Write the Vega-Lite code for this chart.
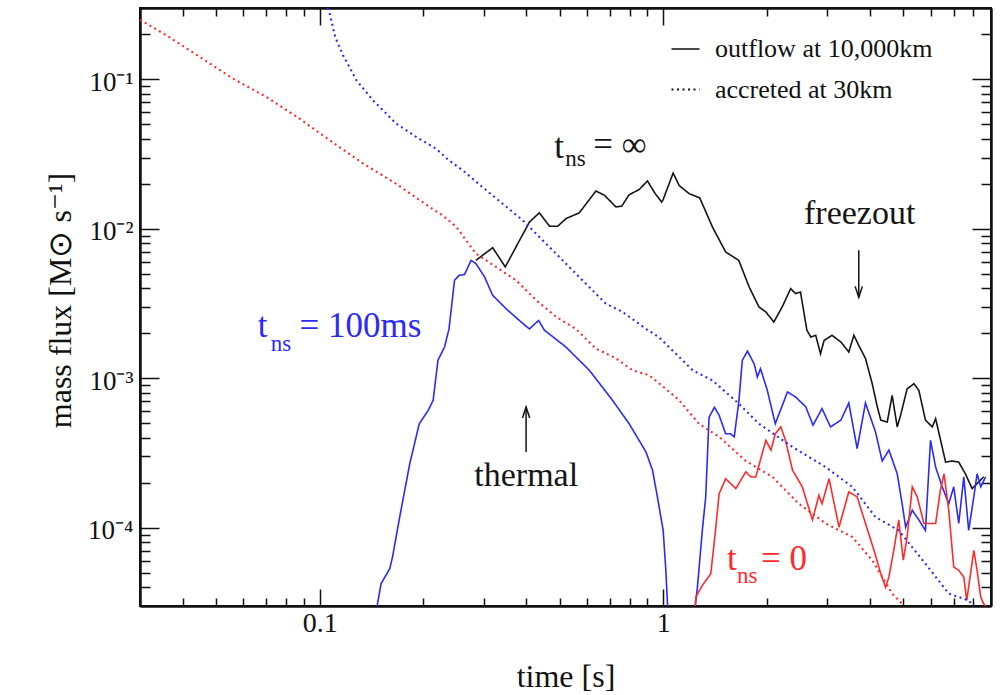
{
  "$schema": "https://vega.github.io/schema/vega-lite/v6.json",
  "width": 851,
  "height": 598,
  "autosize": {"type": "none"},
  "padding": {"left": 140, "top": 8, "right": 10, "bottom": 89},
  "background": "white",
  "config": {
    "view": {"stroke": "#111", "strokeWidth": 2},
    "axis": {"grid": false, "labelFont": "Liberation Serif", "labelColor": "#111", "titleFont": "Liberation Serif", "titleFontWeight": "normal", "titleColor": "#111"}
  },
  "datasets": {
    "curves": [
      {"g":"inf","s":"inf","k":"outflow at 10,000km","t":0.285,"v":0.00615},
      {"g":"inf","s":"inf","k":"outflow at 10,000km","t":0.319,"v":0.00748},
      {"g":"inf","s":"inf","k":"outflow at 10,000km","t":0.347,"v":0.00556},
      {"g":"inf","s":"inf","k":"outflow at 10,000km","t":0.408,"v":0.0111},
      {"g":"inf","s":"inf","k":"outflow at 10,000km","t":0.436,"v":0.0128},
      {"g":"inf","s":"inf","k":"outflow at 10,000km","t":0.467,"v":0.0104},
      {"g":"inf","s":"inf","k":"outflow at 10,000km","t":0.493,"v":0.0104},
      {"g":"inf","s":"inf","k":"outflow at 10,000km","t":0.521,"v":0.0117},
      {"g":"inf","s":"inf","k":"outflow at 10,000km","t":0.570,"v":0.0128},
      {"g":"inf","s":"inf","k":"outflow at 10,000km","t":0.637,"v":0.0179},
      {"g":"inf","s":"inf","k":"outflow at 10,000km","t":0.674,"v":0.0168},
      {"g":"inf","s":"inf","k":"outflow at 10,000km","t":0.729,"v":0.0140},
      {"g":"inf","s":"inf","k":"outflow at 10,000km","t":0.758,"v":0.0142},
      {"g":"inf","s":"inf","k":"outflow at 10,000km","t":0.796,"v":0.0169},
      {"g":"inf","s":"inf","k":"outflow at 10,000km","t":0.851,"v":0.0183},
      {"g":"inf","s":"inf","k":"outflow at 10,000km","t":0.900,"v":0.0209},
      {"g":"inf","s":"inf","k":"outflow at 10,000km","t":0.948,"v":0.0172},
      {"g":"inf","s":"inf","k":"outflow at 10,000km","t":0.990,"v":0.0151},
      {"g":"inf","s":"inf","k":"outflow at 10,000km","t":1.000,"v":0.0157},
      {"g":"inf","s":"inf","k":"outflow at 10,000km","t":1.069,"v":0.0236},
      {"g":"inf","s":"inf","k":"outflow at 10,000km","t":1.113,"v":0.0195},
      {"g":"inf","s":"inf","k":"outflow at 10,000km","t":1.190,"v":0.0172},
      {"g":"inf","s":"inf","k":"outflow at 10,000km","t":1.278,"v":0.0161},
      {"g":"inf","s":"inf","k":"outflow at 10,000km","t":1.391,"v":0.0103},
      {"g":"inf","s":"inf","k":"outflow at 10,000km","t":1.52,"v":0.0070},
      {"g":"inf","s":"inf","k":"outflow at 10,000km","t":1.66,"v":0.00615},
      {"g":"inf","s":"inf","k":"outflow at 10,000km","t":1.78,"v":0.00408},
      {"g":"inf","s":"inf","k":"outflow at 10,000km","t":1.90,"v":0.0030},
      {"g":"inf","s":"inf","k":"outflow at 10,000km","t":1.99,"v":0.00278},
      {"g":"inf","s":"inf","k":"outflow at 10,000km","t":2.10,"v":0.00238},
      {"g":"inf","s":"inf","k":"outflow at 10,000km","t":2.22,"v":0.0030},
      {"g":"inf","s":"inf","k":"outflow at 10,000km","t":2.35,"v":0.00398},
      {"g":"inf","s":"inf","k":"outflow at 10,000km","t":2.43,"v":0.00369},
      {"g":"inf","s":"inf","k":"outflow at 10,000km","t":2.51,"v":0.00378},
      {"g":"inf","s":"inf","k":"outflow at 10,000km","t":2.62,"v":0.0021},
      {"g":"inf","s":"inf","k":"outflow at 10,000km","t":2.69,"v":0.00189},
      {"g":"inf","s":"inf","k":"outflow at 10,000km","t":2.78,"v":0.00194},
      {"g":"inf","s":"inf","k":"outflow at 10,000km","t":2.87,"v":0.00146},
      {"g":"inf","s":"inf","k":"outflow at 10,000km","t":2.94,"v":0.00179},
      {"g":"inf","s":"inf","k":"outflow at 10,000km","t":3.10,"v":0.00194},
      {"g":"inf","s":"inf","k":"outflow at 10,000km","t":3.29,"v":0.00175},
      {"g":"inf","s":"inf","k":"outflow at 10,000km","t":3.47,"v":0.00150},
      {"g":"inf","s":"inf","k":"outflow at 10,000km","t":3.59,"v":0.00194},
      {"g":"inf","s":"inf","k":"outflow at 10,000km","t":3.71,"v":0.00166},
      {"g":"inf","s":"inf","k":"outflow at 10,000km","t":3.88,"v":0.00136},
      {"g":"inf","s":"inf","k":"outflow at 10,000km","t":4.06,"v":0.00092},
      {"g":"inf","s":"inf","k":"outflow at 10,000km","t":4.20,"v":0.000645},
      {"g":"inf","s":"inf","k":"outflow at 10,000km","t":4.30,"v":0.000525},
      {"g":"inf","s":"inf","k":"outflow at 10,000km","t":4.49,"v":0.00051},
      {"g":"inf","s":"inf","k":"outflow at 10,000km","t":4.64,"v":0.00077},
      {"g":"inf","s":"inf","k":"outflow at 10,000km","t":4.80,"v":0.000473},
      {"g":"inf","s":"inf","k":"outflow at 10,000km","t":4.91,"v":0.000566},
      {"g":"inf","s":"inf","k":"outflow at 10,000km","t":5.13,"v":0.00085},
      {"g":"inf","s":"inf","k":"outflow at 10,000km","t":5.37,"v":0.00092},
      {"g":"inf","s":"inf","k":"outflow at 10,000km","t":5.55,"v":0.00083},
      {"g":"inf","s":"inf","k":"outflow at 10,000km","t":5.80,"v":0.000525},
      {"g":"inf","s":"inf","k":"outflow at 10,000km","t":6.07,"v":0.000473},
      {"g":"inf","s":"inf","k":"outflow at 10,000km","t":6.21,"v":0.000537},
      {"g":"inf","s":"inf","k":"outflow at 10,000km","t":6.64,"v":0.000275},
      {"g":"inf","s":"inf","k":"outflow at 10,000km","t":6.94,"v":0.00028},
      {"g":"inf","s":"inf","k":"outflow at 10,000km","t":7.25,"v":0.000275},
      {"g":"inf","s":"inf","k":"outflow at 10,000km","t":7.58,"v":0.00023},
      {"g":"inf","s":"inf","k":"outflow at 10,000km","t":7.93,"v":0.000183},
      {"g":"inf","s":"inf","k":"outflow at 10,000km","t":8.29,"v":0.000203},
      {"g":"inf","s":"inf","k":"outflow at 10,000km","t":8.57,"v":0.000219},

      {"g":"b1","s":"100ms","k":"outflow at 10,000km","t":0.147,"v":0.00003},
      {"g":"b1","s":"100ms","k":"outflow at 10,000km","t":0.151,"v":0.0000424},
      {"g":"b1","s":"100ms","k":"outflow at 10,000km","t":0.160,"v":0.0000533},
      {"g":"b1","s":"100ms","k":"outflow at 10,000km","t":0.163,"v":0.0000638},
      {"g":"b1","s":"100ms","k":"outflow at 10,000km","t":0.171,"v":0.000118},
      {"g":"b1","s":"100ms","k":"outflow at 10,000km","t":0.183,"v":0.000269},
      {"g":"b1","s":"100ms","k":"outflow at 10,000km","t":0.195,"v":0.000497},
      {"g":"b1","s":"100ms","k":"outflow at 10,000km","t":0.207,"v":0.00061},
      {"g":"b1","s":"100ms","k":"outflow at 10,000km","t":0.214,"v":0.000713},
      {"g":"b1","s":"100ms","k":"outflow at 10,000km","t":0.221,"v":0.00132},
      {"g":"b1","s":"100ms","k":"outflow at 10,000km","t":0.231,"v":0.00162},
      {"g":"b1","s":"100ms","k":"outflow at 10,000km","t":0.238,"v":0.00214},
      {"g":"b1","s":"100ms","k":"outflow at 10,000km","t":0.247,"v":0.00453},
      {"g":"b1","s":"100ms","k":"outflow at 10,000km","t":0.255,"v":0.00489},
      {"g":"b1","s":"100ms","k":"outflow at 10,000km","t":0.264,"v":0.00495},
      {"g":"b1","s":"100ms","k":"outflow at 10,000km","t":0.276,"v":0.00615},
      {"g":"b1","s":"100ms","k":"outflow at 10,000km","t":0.285,"v":0.00586},
      {"g":"b1","s":"100ms","k":"outflow at 10,000km","t":0.302,"v":0.00477},
      {"g":"b1","s":"100ms","k":"outflow at 10,000km","t":0.319,"v":0.00359},
      {"g":"b1","s":"100ms","k":"outflow at 10,000km","t":0.349,"v":0.00292},
      {"g":"b1","s":"100ms","k":"outflow at 10,000km","t":0.386,"v":0.00238},
      {"g":"b1","s":"100ms","k":"outflow at 10,000km","t":0.408,"v":0.00214},
      {"g":"b1","s":"100ms","k":"outflow at 10,000km","t":0.434,"v":0.00244},
      {"g":"b1","s":"100ms","k":"outflow at 10,000km","t":0.451,"v":0.0021},
      {"g":"b1","s":"100ms","k":"outflow at 10,000km","t":0.521,"v":0.00162},
      {"g":"b1","s":"100ms","k":"outflow at 10,000km","t":0.61,"v":0.00113},
      {"g":"b1","s":"100ms","k":"outflow at 10,000km","t":0.712,"v":0.000713},
      {"g":"b1","s":"100ms","k":"outflow at 10,000km","t":0.796,"v":0.000497},
      {"g":"b1","s":"100ms","k":"outflow at 10,000km","t":0.891,"v":0.000322},
      {"g":"b1","s":"100ms","k":"outflow at 10,000km","t":0.931,"v":0.000243},
      {"g":"b1","s":"100ms","k":"outflow at 10,000km","t":0.962,"v":0.000161},
      {"g":"b1","s":"100ms","k":"outflow at 10,000km","t":1.0,"v":0.000096},
      {"g":"b1","s":"100ms","k":"outflow at 10,000km","t":1.018,"v":0.000052},
      {"g":"b1","s":"100ms","k":"outflow at 10,000km","t":1.03,"v":0.00003},

      {"g":"b2","s":"100ms","k":"outflow at 10,000km","t":1.24,"v":0.00003},
      {"g":"b2","s":"100ms","k":"outflow at 10,000km","t":1.258,"v":0.00004},
      {"g":"b2","s":"100ms","k":"outflow at 10,000km","t":1.30,"v":0.000096},
      {"g":"b2","s":"100ms","k":"outflow at 10,000km","t":1.33,"v":0.000161},
      {"g":"b2","s":"100ms","k":"outflow at 10,000km","t":1.36,"v":0.00055},
      {"g":"b2","s":"100ms","k":"outflow at 10,000km","t":1.41,"v":0.00064},
      {"g":"b2","s":"100ms","k":"outflow at 10,000km","t":1.455,"v":0.000566},
      {"g":"b2","s":"100ms","k":"outflow at 10,000km","t":1.52,"v":0.000426},
      {"g":"b2","s":"100ms","k":"outflow at 10,000km","t":1.57,"v":0.000426},
      {"g":"b2","s":"100ms","k":"outflow at 10,000km","t":1.61,"v":0.000406},
      {"g":"b2","s":"100ms","k":"outflow at 10,000km","t":1.66,"v":0.000695},
      {"g":"b2","s":"100ms","k":"outflow at 10,000km","t":1.70,"v":0.00132},
      {"g":"b2","s":"100ms","k":"outflow at 10,000km","t":1.76,"v":0.00152},
      {"g":"b2","s":"100ms","k":"outflow at 10,000km","t":1.84,"v":0.00125},
      {"g":"b2","s":"100ms","k":"outflow at 10,000km","t":1.88,"v":0.00102},
      {"g":"b2","s":"100ms","k":"outflow at 10,000km","t":1.92,"v":0.00116},
      {"g":"b2","s":"100ms","k":"outflow at 10,000km","t":2.01,"v":0.00083},
      {"g":"b2","s":"100ms","k":"outflow at 10,000km","t":2.12,"v":0.000497},
      {"g":"b2","s":"100ms","k":"outflow at 10,000km","t":2.30,"v":0.00081},
      {"g":"b2","s":"100ms","k":"outflow at 10,000km","t":2.43,"v":0.00075},
      {"g":"b2","s":"100ms","k":"outflow at 10,000km","t":2.60,"v":0.000645},
      {"g":"b2","s":"100ms","k":"outflow at 10,000km","t":2.73,"v":0.000486},
      {"g":"b2","s":"100ms","k":"outflow at 10,000km","t":2.90,"v":0.000627},
      {"g":"b2","s":"100ms","k":"outflow at 10,000km","t":3.07,"v":0.000473},
      {"g":"b2","s":"100ms","k":"outflow at 10,000km","t":3.29,"v":0.000525},
      {"g":"b2","s":"100ms","k":"outflow at 10,000km","t":3.47,"v":0.000684},
      {"g":"b2","s":"100ms","k":"outflow at 10,000km","t":3.67,"v":0.000339},
      {"g":"b2","s":"100ms","k":"outflow at 10,000km","t":3.88,"v":0.000684},
      {"g":"b2","s":"100ms","k":"outflow at 10,000km","t":4.15,"v":0.000438},
      {"g":"b2","s":"100ms","k":"outflow at 10,000km","t":4.34,"v":0.00028},
      {"g":"b2","s":"100ms","k":"outflow at 10,000km","t":4.54,"v":0.000331},
      {"g":"b2","s":"100ms","k":"outflow at 10,000km","t":4.80,"v":0.00023},
      {"g":"b2","s":"100ms","k":"outflow at 10,000km","t":4.96,"v":0.000145},
      {"g":"b2","s":"100ms","k":"outflow at 10,000km","t":5.08,"v":0.000101},
      {"g":"b2","s":"100ms","k":"outflow at 10,000km","t":5.31,"v":0.000131},
      {"g":"b2","s":"100ms","k":"outflow at 10,000km","t":5.55,"v":0.000113},
      {"g":"b2","s":"100ms","k":"outflow at 10,000km","t":5.80,"v":0.000096},
      {"g":"b2","s":"100ms","k":"outflow at 10,000km","t":6.00,"v":0.000385},
      {"g":"b2","s":"100ms","k":"outflow at 10,000km","t":6.21,"v":0.000255},
      {"g":"b2","s":"100ms","k":"outflow at 10,000km","t":6.49,"v":0.000188},
      {"g":"b2","s":"100ms","k":"outflow at 10,000km","t":6.78,"v":0.000145},
      {"g":"b2","s":"100ms","k":"outflow at 10,000km","t":7.01,"v":0.000188},
      {"g":"b2","s":"100ms","k":"outflow at 10,000km","t":7.25,"v":0.000107},
      {"g":"b2","s":"100ms","k":"outflow at 10,000km","t":7.50,"v":0.000219},
      {"g":"b2","s":"100ms","k":"outflow at 10,000km","t":7.75,"v":0.000096},
      {"g":"b2","s":"100ms","k":"outflow at 10,000km","t":8.02,"v":0.000161},
      {"g":"b2","s":"100ms","k":"outflow at 10,000km","t":8.20,"v":0.00023},
      {"g":"b2","s":"100ms","k":"outflow at 10,000km","t":8.40,"v":0.000188},
      {"g":"b2","s":"100ms","k":"outflow at 10,000km","t":8.68,"v":0.000219},

      {"g":"r","s":"0","k":"outflow at 10,000km","t":1.24,"v":0.00003},
      {"g":"r","s":"0","k":"outflow at 10,000km","t":1.245,"v":0.0000345},
      {"g":"r","s":"0","k":"outflow at 10,000km","t":1.30,"v":0.0000412},
      {"g":"r","s":"0","k":"outflow at 10,000km","t":1.376,"v":0.0000493},
      {"g":"r","s":"0","k":"outflow at 10,000km","t":1.42,"v":0.000096},
      {"g":"r","s":"0","k":"outflow at 10,000km","t":1.455,"v":0.000169},
      {"g":"r","s":"0","k":"outflow at 10,000km","t":1.52,"v":0.000213},
      {"g":"r","s":"0","k":"outflow at 10,000km","t":1.627,"v":0.000183},
      {"g":"r","s":"0","k":"outflow at 10,000km","t":1.74,"v":0.000237},
      {"g":"r","s":"0","k":"outflow at 10,000km","t":1.80,"v":0.000219},
      {"g":"r","s":"0","k":"outflow at 10,000km","t":1.86,"v":0.000219},
      {"g":"r","s":"0","k":"outflow at 10,000km","t":1.99,"v":0.000385},
      {"g":"r","s":"0","k":"outflow at 10,000km","t":2.06,"v":0.000331},
      {"g":"r","s":"0","k":"outflow at 10,000km","t":2.12,"v":0.000426},
      {"g":"r","s":"0","k":"outflow at 10,000km","t":2.20,"v":0.000473},
      {"g":"r","s":"0","k":"outflow at 10,000km","t":2.27,"v":0.000385},
      {"g":"r","s":"0","k":"outflow at 10,000km","t":2.38,"v":0.000243},
      {"g":"r","s":"0","k":"outflow at 10,000km","t":2.54,"v":0.000188},
      {"g":"r","s":"0","k":"outflow at 10,000km","t":2.72,"v":0.000113},
      {"g":"r","s":"0","k":"outflow at 10,000km","t":2.84,"v":0.000165},
      {"g":"r","s":"0","k":"outflow at 10,000km","t":2.90,"v":0.000145},
      {"g":"r","s":"0","k":"outflow at 10,000km","t":3.04,"v":0.000213},
      {"g":"r","s":"0","k":"outflow at 10,000km","t":3.25,"v":0.000101},
      {"g":"r","s":"0","k":"outflow at 10,000km","t":3.47,"v":0.000174},
      {"g":"r","s":"0","k":"outflow at 10,000km","t":3.67,"v":0.000161},
      {"g":"r","s":"0","k":"outflow at 10,000km","t":3.88,"v":0.000107},
      {"g":"r","s":"0","k":"outflow at 10,000km","t":4.11,"v":0.0000706},
      {"g":"r","s":"0","k":"outflow at 10,000km","t":4.30,"v":0.0000493},
      {"g":"r","s":"0","k":"outflow at 10,000km","t":4.44,"v":0.00004},
      {"g":"r","s":"0","k":"outflow at 10,000km","t":4.54,"v":0.0000469},
      {"g":"r","s":"0","k":"outflow at 10,000km","t":4.69,"v":0.0000706},
      {"g":"r","s":"0","k":"outflow at 10,000km","t":4.85,"v":0.000113},
      {"g":"r","s":"0","k":"outflow at 10,000km","t":5.00,"v":0.0000607},
      {"g":"r","s":"0","k":"outflow at 10,000km","t":5.13,"v":0.000087},
      {"g":"r","s":"0","k":"outflow at 10,000km","t":5.31,"v":0.000188},
      {"g":"r","s":"0","k":"outflow at 10,000km","t":5.49,"v":0.000161},
      {"g":"r","s":"0","k":"outflow at 10,000km","t":5.74,"v":0.000107},
      {"g":"r","s":"0","k":"outflow at 10,000km","t":6.21,"v":0.000107},
      {"g":"r","s":"0","k":"outflow at 10,000km","t":6.41,"v":0.000178},
      {"g":"r","s":"0","k":"outflow at 10,000km","t":6.57,"v":0.00023},
      {"g":"r","s":"0","k":"outflow at 10,000km","t":6.78,"v":0.000131},
      {"g":"r","s":"0","k":"outflow at 10,000km","t":7.01,"v":0.0000547},
      {"g":"r","s":"0","k":"outflow at 10,000km","t":7.25,"v":0.000052},
      {"g":"r","s":"0","k":"outflow at 10,000km","t":7.50,"v":0.0000469},
      {"g":"r","s":"0","k":"outflow at 10,000km","t":7.65,"v":0.0000327},
      {"g":"r","s":"0","k":"outflow at 10,000km","t":8.02,"v":0.0000706},
      {"g":"r","s":"0","k":"outflow at 10,000km","t":8.20,"v":0.000052},
      {"g":"r","s":"0","k":"outflow at 10,000km","t":8.40,"v":0.0000345},
      {"g":"r","s":"0","k":"outflow at 10,000km","t":8.57,"v":0.000031},
      {"g":"r","s":"0","k":"outflow at 10,000km","t":8.7,"v":0.00003},

      {"g":"bd","s":"100ms","k":"accreted at 30km","t":0.1055,"v":0.3},
      {"g":"bd","s":"100ms","k":"accreted at 30km","t":0.107,"v":0.275},
      {"g":"bd","s":"100ms","k":"accreted at 30km","t":0.111,"v":0.192},
      {"g":"bd","s":"100ms","k":"accreted at 30km","t":0.117,"v":0.145},
      {"g":"bd","s":"100ms","k":"accreted at 30km","t":0.128,"v":0.0985},
      {"g":"bd","s":"100ms","k":"accreted at 30km","t":0.143,"v":0.0724},
      {"g":"bd","s":"100ms","k":"accreted at 30km","t":0.167,"v":0.0506},
      {"g":"bd","s":"100ms","k":"accreted at 30km","t":0.191,"v":0.0412},
      {"g":"bd","s":"100ms","k":"accreted at 30km","t":0.218,"v":0.0344},
      {"g":"bd","s":"100ms","k":"accreted at 30km","t":0.238,"v":0.0287},
      {"g":"bd","s":"100ms","k":"accreted at 30km","t":0.261,"v":0.0246},
      {"g":"bd","s":"100ms","k":"accreted at 30km","t":0.298,"v":0.019},
      {"g":"bd","s":"100ms","k":"accreted at 30km","t":0.341,"v":0.0147},
      {"g":"bd","s":"100ms","k":"accreted at 30km","t":0.39,"v":0.0114},
      {"g":"bd","s":"100ms","k":"accreted at 30km","t":0.456,"v":0.00796},
      {"g":"bd","s":"100ms","k":"accreted at 30km","t":0.51,"v":0.00615},
      {"g":"bd","s":"100ms","k":"accreted at 30km","t":0.582,"v":0.00453},
      {"g":"bd","s":"100ms","k":"accreted at 30km","t":0.681,"v":0.00316},
      {"g":"bd","s":"100ms","k":"accreted at 30km","t":0.762,"v":0.00278},
      {"g":"bd","s":"100ms","k":"accreted at 30km","t":0.891,"v":0.00214},
      {"g":"bd","s":"100ms","k":"accreted at 30km","t":0.97,"v":0.00189},
      {"g":"bd","s":"100ms","k":"accreted at 30km","t":1.113,"v":0.00139},
      {"g":"bd","s":"100ms","k":"accreted at 30km","t":1.22,"v":0.00113},
      {"g":"bd","s":"100ms","k":"accreted at 30km","t":1.39,"v":0.00097},
      {"g":"bd","s":"100ms","k":"accreted at 30km","t":1.66,"v":0.000677},
      {"g":"bd","s":"100ms","k":"accreted at 30km","t":1.90,"v":0.000497},
      {"g":"bd","s":"100ms","k":"accreted at 30km","t":2.38,"v":0.000347},
      {"g":"bd","s":"100ms","k":"accreted at 30km","t":2.97,"v":0.000255},
      {"g":"bd","s":"100ms","k":"accreted at 30km","t":3.55,"v":0.000188},
      {"g":"bd","s":"100ms","k":"accreted at 30km","t":4.15,"v":0.000118},
      {"g":"bd","s":"100ms","k":"accreted at 30km","t":4.85,"v":0.000096},
      {"g":"bd","s":"100ms","k":"accreted at 30km","t":5.8,"v":0.0000575},
      {"g":"bd","s":"100ms","k":"accreted at 30km","t":6.78,"v":0.0000363},
      {"g":"bd","s":"100ms","k":"accreted at 30km","t":7.75,"v":0.0000327},
      {"g":"bd","s":"100ms","k":"accreted at 30km","t":8.0,"v":0.00003},

      {"g":"rd","s":"0","k":"accreted at 30km","t":0.03,"v":0.25},
      {"g":"rd","s":"0","k":"accreted at 30km","t":0.0358,"v":0.197},
      {"g":"rd","s":"0","k":"accreted at 30km","t":0.0448,"v":0.141},
      {"g":"rd","s":"0","k":"accreted at 30km","t":0.056,"v":0.101},
      {"g":"rd","s":"0","k":"accreted at 30km","t":0.07,"v":0.0762},
      {"g":"rd","s":"0","k":"accreted at 30km","t":0.0874,"v":0.0546},
      {"g":"rd","s":"0","k":"accreted at 30km","t":0.107,"v":0.0391},
      {"g":"rd","s":"0","k":"accreted at 30km","t":0.134,"v":0.0273},
      {"g":"rd","s":"0","k":"accreted at 30km","t":0.167,"v":0.02},
      {"g":"rd","s":"0","k":"accreted at 30km","t":0.209,"v":0.014},
      {"g":"rd","s":"0","k":"accreted at 30km","t":0.228,"v":0.0123},
      {"g":"rd","s":"0","k":"accreted at 30km","t":0.25,"v":0.0103},
      {"g":"rd","s":"0","k":"accreted at 30km","t":0.285,"v":0.00683},
      {"g":"rd","s":"0","k":"accreted at 30km","t":0.326,"v":0.00556},
      {"g":"rd","s":"0","k":"accreted at 30km","t":0.373,"v":0.00453},
      {"g":"rd","s":"0","k":"accreted at 30km","t":0.427,"v":0.00333},
      {"g":"rd","s":"0","k":"accreted at 30km","t":0.488,"v":0.00258},
      {"g":"rd","s":"0","k":"accreted at 30km","t":0.557,"v":0.00214},
      {"g":"rd","s":"0","k":"accreted at 30km","t":0.637,"v":0.00158},
      {"g":"rd","s":"0","k":"accreted at 30km","t":0.729,"v":0.00136},
      {"g":"rd","s":"0","k":"accreted at 30km","t":0.815,"v":0.00113},
      {"g":"rd","s":"0","k":"accreted at 30km","t":0.91,"v":0.00105},
      {"g":"rd","s":"0","k":"accreted at 30km","t":1.018,"v":0.00085},
      {"g":"rd","s":"0","k":"accreted at 30km","t":1.113,"v":0.000713},
      {"g":"rd","s":"0","k":"accreted at 30km","t":1.27,"v":0.000497},
      {"g":"rd","s":"0","k":"accreted at 30km","t":1.455,"v":0.000406},
      {"g":"rd","s":"0","k":"accreted at 30km","t":1.74,"v":0.00028},
      {"g":"rd","s":"0","k":"accreted at 30km","t":2.08,"v":0.000219},
      {"g":"rd","s":"0","k":"accreted at 30km","t":2.48,"v":0.000145},
      {"g":"rd","s":"0","k":"accreted at 30km","t":2.97,"v":0.000107},
      {"g":"rd","s":"0","k":"accreted at 30km","t":3.55,"v":0.000087},
      {"g":"rd","s":"0","k":"accreted at 30km","t":4.06,"v":0.0000607},
      {"g":"rd","s":"0","k":"accreted at 30km","t":4.64,"v":0.0000363},
      {"g":"rd","s":"0","k":"accreted at 30km","t":4.96,"v":0.000031},
      {"g":"rd","s":"0","k":"accreted at 30km","t":5.0,"v":0.00003}
    ],
    "main": [
      {"txt":"t","t":0.482,"v":0.0296,"s":"inf"},
      {"txt":"= ∞","t":0.626,"v":0.0306,"s":"inf"},
      {"txt":"t","t":0.0661,"v":0.00188,"s":"100ms"},
      {"txt":"= 100ms","t":0.0874,"v":0.00188,"s":"100ms"},
      {"txt":"t","t":1.535,"v":0.000052,"s":"0"},
      {"txt":"= 0","t":1.927,"v":0.000052,"s":"0"}
    ],
    "subs": [
      {"txt":"ns","t":0.519,"v":0.0262,"s":"inf"},
      {"txt":"ns","t":0.0721,"v":0.00152,"s":"100ms"},
      {"txt":"ns","t":1.641,"v":0.0000426,"s":"0"}
    ],
    "notes": [
      {"txt":"freezout","t":2.57,"v":0.0107,"s":"inf"},
      {"txt":"thermal","t":0.282,"v":0.00019,"s":"inf"}
    ],
    "arrows": [
      {"t":3.71,"tip":0.00348,"tail":0.00718,"dir":"down"},
      {"t":0.399,"tip":0.000643,"tail":0.000321,"dir":"up"}
    ]
  },
  "resolve": {"axis": {"x": "independent", "y": "independent"}},
  "layer": [
    {
      "data": {"name": "curves"},
      "mark": {"type": "line"},
      "encoding": {
        "x": {"field": "t", "type": "quantitative",
          "scale": {"type": "log", "domain": [0.03, 9], "nice": false},
          "axis": {"orient": "bottom", "values": [0.1, 1],
            "labelExpr": "datum.value == 0.1 ? '0.1' : '1'",
            "domainColor": "#111", "domainWidth": 2,
            "tickSize": -17, "tickColor": "#111", "tickWidth": 1.5, "labelFontSize": 28, "labelPadding": 20,
            "title": "time [s]", "titleFontSize": 32, "titleY": 80, "titleBaseline": "alphabetic"}},
        "y": {"field": "v", "type": "quantitative",
          "scale": {"type": "log", "domain": [0.00003, 0.3], "nice": false},
          "axis": {"orient": "left", "values": [0.0001, 0.001, 0.01, 0.1],
            "labelExpr": "datum.value == 0.1 ? '10⁻¹' : datum.value == 0.01 ? '10⁻²' : datum.value == 0.001 ? '10⁻³' : '10⁻⁴'",
            "domainColor": "#111", "domainWidth": 2,
            "tickSize": -19, "tickColor": "#111", "tickWidth": 1.5, "labelFontSize": 27, "labelPadding": 26, "labelOffset": 3,
            "title": "mass flux [M⊙ s⁻¹]", "titleFontSize": 32, "titleX": -70, "titleY": 292, "titleBaseline": "alphabetic", "titleAngle": -90}},
        "color": {"field": "s", "type": "nominal",
          "scale": {"domain": ["inf", "100ms", "0"], "range": ["#151515", "#2b2bf5", "#ff2a2a"]}, "legend": null},
        "strokeDash": {"field": "k", "type": "nominal",
          "scale": {"domain": ["outflow at 10,000km", "accreted at 30km"], "range": [[1, 0], [2, 3.5]]},
          "legend": {"title": null, "orient": "none", "legendX": 530, "legendY": 26, "padding": 0,
            "symbolType": "stroke", "symbolSize": 784, "symbolStrokeColor": "#111",
            "labelFont": "Liberation Serif", "labelFontSize": 26, "labelColor": "#111", "labelOffset": 14, "rowPadding": 12, "labelLimit": 400}},
        "strokeWidth": {"field": "k", "type": "nominal",
          "scale": {"domain": ["outflow at 10,000km", "accreted at 30km"], "range": [1.6, 2.1]}},
        "detail": {"field": "g"}
      }
    },
    {
      "data": {"name": "main"},
      "mark": {"type": "text", "font": "Liberation Serif", "fontSize": 35, "align": "left", "baseline": "alphabetic"},
      "encoding": {
        "x": {"field": "t", "type": "quantitative",
          "axis": {"orient": "bottom", "labels": false, "title": null, "domainColor": "#111", "domainWidth": 2, "tickSize": -8, "tickColor": "#111", "tickWidth": 1.5,
            "values": [0.04,0.05,0.06,0.07,0.08,0.09,0.2,0.3,0.4,0.5,0.6,0.7,0.8,0.9,2,3,4,5,6,7,8]}},
        "y": {"field": "v", "type": "quantitative",
          "axis": {"orient": "left", "labels": false, "title": null, "domainColor": "#111", "domainWidth": 2, "tickSize": -10, "tickColor": "#111", "tickWidth": 1.5,
            "values": [0.00004,0.00005,0.00006,0.00007,0.00008,0.00009,0.0002,0.0003,0.0004,0.0005,0.0006,0.0007,0.0008,0.0009,0.002,0.003,0.004,0.005,0.006,0.007,0.008,0.009,0.02,0.03,0.04,0.05,0.06,0.07,0.08,0.09,0.2]}},
        "text": {"field": "txt"},
        "color": {"field": "s", "type": "nominal", "legend": null}
      }
    },
    {
      "data": {"name": "subs"},
      "mark": {"type": "text", "font": "Liberation Serif", "fontSize": 23, "align": "left", "baseline": "alphabetic"},
      "encoding": {
        "x": {"field": "t", "type": "quantitative",
          "axis": {"orient": "top", "labels": false, "title": null, "domainColor": "#111", "domainWidth": 2, "tickSize": -17, "tickColor": "#111", "tickWidth": 1.5, "values": [0.1, 1]}},
        "y": {"field": "v", "type": "quantitative",
          "axis": {"orient": "right", "labels": false, "title": null, "domainColor": "#111", "domainWidth": 2, "tickSize": -19, "tickColor": "#111", "tickWidth": 1.5, "values": [0.0001, 0.001, 0.01, 0.1]}},
        "text": {"field": "txt"},
        "color": {"field": "s", "type": "nominal", "legend": null}
      }
    },
    {
      "data": {"name": "notes"},
      "mark": {"type": "text", "font": "Liberation Serif", "fontSize": 34, "align": "left", "baseline": "alphabetic"},
      "encoding": {
        "x": {"field": "t", "type": "quantitative",
          "axis": {"orient": "top", "labels": false, "title": null, "domainColor": "#111", "domainWidth": 2, "tickSize": -8, "tickColor": "#111", "tickWidth": 1.5,
            "values": [0.04,0.05,0.06,0.07,0.08,0.09,0.2,0.3,0.4,0.5,0.6,0.7,0.8,0.9,2,3,4,5,6,7,8]}},
        "y": {"field": "v", "type": "quantitative",
          "axis": {"orient": "right", "labels": false, "title": null, "domainColor": "#111", "domainWidth": 2, "tickSize": -10, "tickColor": "#111", "tickWidth": 1.5,
            "values": [0.00004,0.00005,0.00006,0.00007,0.00008,0.00009,0.0002,0.0003,0.0004,0.0005,0.0006,0.0007,0.0008,0.0009,0.002,0.003,0.004,0.005,0.006,0.007,0.008,0.009,0.02,0.03,0.04,0.05,0.06,0.07,0.08,0.09,0.2]}},
        "text": {"field": "txt"},
        "color": {"field": "s", "type": "nominal", "legend": null}
      }
    },
    {
      "data": {"name": "arrows"},
      "mark": {"type": "rule", "color": "#111", "strokeWidth": 1.5},
      "encoding": {
        "x": {"field": "t", "type": "quantitative", "axis": null},
        "y": {"field": "tip", "type": "quantitative", "axis": null},
        "y2": {"field": "tail"}
      }
    },
    {
      "data": {"name": "arrows"},
      "mark": {"type": "point", "filled": false, "stroke": "#111", "strokeWidth": 1.5, "size": 484, "opacity": 1},
      "encoding": {
        "x": {"field": "t", "type": "quantitative", "axis": null},
        "y": {"field": "tip", "type": "quantitative", "axis": null},
        "shape": {"field": "dir", "type": "nominal",
          "scale": {"domain": ["down", "up"], "range": ["M-0.33,-1L0,0L0.33,-1", "M-0.33,1L0,0L0.33,1"]}, "legend": null}
      }
    }
  ]
}
